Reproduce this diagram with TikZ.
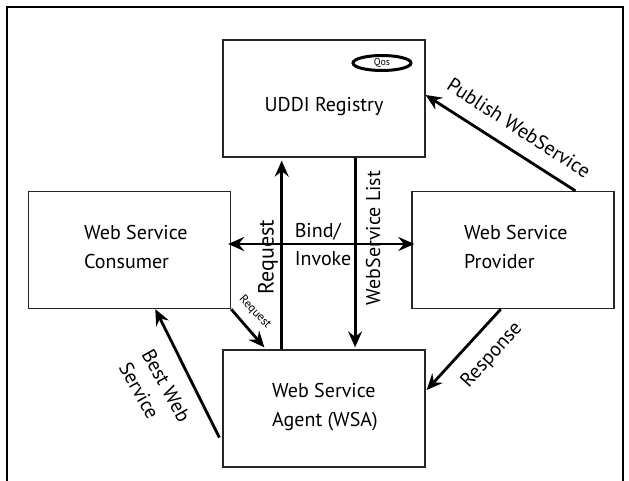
\documentclass[tikz,border=0pt]{standalone}
\usepackage{fontspec}
\setmainfont{PT Sans}
\usetikzlibrary{arrows.meta,calc,shapes.geometric}
\begin{document}
\begin{tikzpicture}[x=1pt,y=-1pt,
  box/.style={draw=black!85, line width=1.3pt, minimum width=202pt, minimum height=117pt, inner sep=0pt},
  txt/.style={font=\fontsize{20}{29}\selectfont, align=left, inner sep=0pt},
  lbl/.style={font=\fontsize{20}{26}\selectfont, inner sep=0pt},
  arr/.style={line width=2.8pt, -{Stealth[length=16pt,width=14pt,inset=5.5pt]}},
  darr/.style={line width=2.8pt, {Stealth[length=16pt,width=14pt,inset=5.5pt]}-{Stealth[length=16pt,width=14pt,inset=5.5pt]}},
]
\useasboundingbox (0,0) rectangle (629,480);
\draw[line width=2pt] (7,490) -- (7,7) -- (623,7) -- (623,490);

\node[box] (uddi) at (324,98.5) {};
\node[box] (consumer) at (129.5,250) {};
\node[box] (provider) at (513,250) {};
\node[box] (agent) at (324,408.5) {};

\node[txt] (uddiT) at (324,107) {UDDI Registry};
\node[txt, anchor=west] (consT) at (84,246.5) {Web Service\\Consumer};
\node[txt, anchor=west] (provT) at (464,246.5) {Web Service\\Provider};
\node[txt, anchor=west] (agentT) at (272,407.5) {Web Service\\Agent (WSA)};

\node[ellipse, draw, line width=3pt, minimum width=58pt, minimum height=15pt, inner sep=0pt,
      font=\fontsize{10}{10}\selectfont] (qos) at (382,63) {Qos};

% connectors
\draw[arr] ($(provider.north west)!0.807!(provider.north east)$) -- ($(uddi.east)+(0,-3.5)$);
\draw[arr] ($(provider.south west)!0.44!(provider.south east)$) -- ($(agent.east)+(1,-18.5)$);
\draw[arr] ($(agent.west)+(-3,29)$) -- ($(consumer.south west)!0.627!(consumer.south east)$);
\draw[arr] (consumer.south east) -- ($(agent.north west)+(42,-2)$);
\draw[arr, shorten >=3pt] ($(agent.north west)!0.292!(agent.north east)$) -- ($(uddi.south west)!0.292!(uddi.south east)$);
\draw[arr, shorten >=2pt] ($(uddi.south west)!0.653!(uddi.south east)$) -- ($(agent.north west)!0.653!(agent.north east)$);
\draw[darr] ($(consumer.east)+(-3,-6)$) -- ($(provider.west)+(3,-6)$);

% labels
\node[lbl, rotate=90, font=\fontsize{22}{22}\selectfont] (lreq) at (268,257) {Request};
\node[lbl, rotate=90] (lwsl) at (373,238) {WebService List};
\node[lbl, align=left, font=\fontsize{20}{28}\selectfont] (lbind) at (323,244) {Bind/\\Invoke};
\node[lbl, rotate=-47, font=\fontsize{12}{12}\selectfont] (lreq2) at (255,312) {Request};
\node[lbl, rotate=-61, align=left] (lbest) at (155,392) {Best Web\\Service};
\node[lbl, rotate=48] (lresp) at (492,355) {Response};
\node[lbl, rotate=-33] (lpub) at (519,128) {Publish WebService};
\end{tikzpicture}
\end{document}
